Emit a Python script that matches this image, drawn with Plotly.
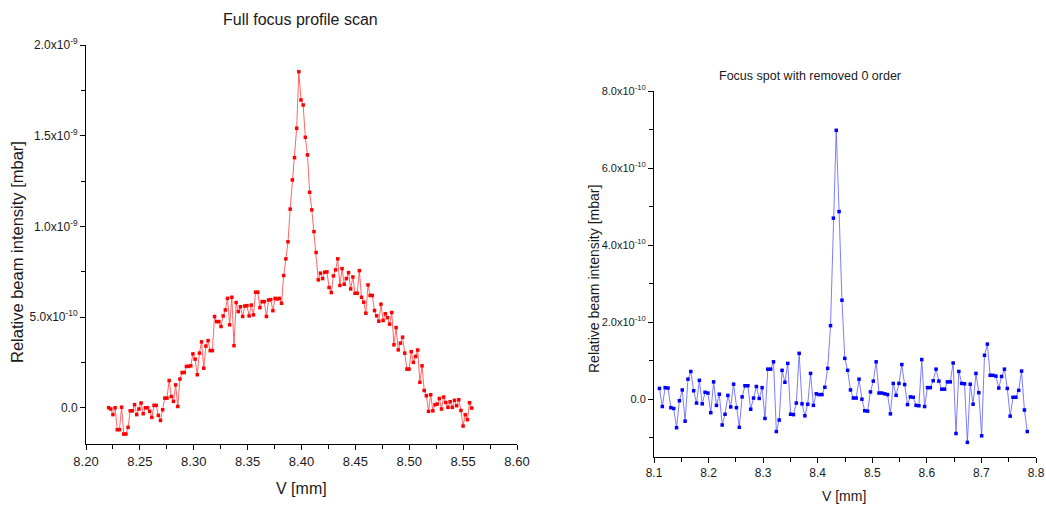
import numpy as np
import plotly.graph_objects as go

# ---------------- data (intensities in units of 1e-10 mbar) ----------------
full_scan_start = 8.221   # first scan position [mm]
full_scan_end = 8.558     # last scan position [mm]
full_intensity_e10 = [
    0.0, -0.07, -0.38, 0.0, -1.21, -1.21, 0.03, -1.45, -1.45, -1.08,
    -0.17, -0.17, 0.17, -0.38, -0.07, 0.26, -0.33, 0.0, 0.0, -0.20,
    -0.53, 0.13, 0.13, -0.42, -0.70, -0.11, 0.53, 0.53, 1.50, 0.62,
    0.35, 1.26, 0.07, 1.58, 1.94, 1.94, 2.28, 2.28, 2.31, 2.97,
    2.68, 1.82, 3.01, 3.63, 2.18, 3.40, 3.70, 3.15, 3.15, 5.03,
    4.75, 4.75, 4.48, 5.06, 5.39, 6.03, 4.57, 6.09, 3.42, 5.80,
    5.30, 5.57, 5.03, 5.61, 5.63, 5.06, 5.66, 5.12, 6.37, 6.37,
    5.52, 5.85, 5.85, 5.03, 5.94, 5.96, 5.35, 6.03, 6.00, 6.03,
    5.76, 7.29, 8.21, 9.15, 10.95, 12.56, 13.79, 15.41, 18.53,
    16.97, 16.69, 14.91, 13.94, 11.88, 10.91, 9.71, 8.56, 7.05, 7.42,
    7.12, 7.47, 7.49, 6.63, 6.35, 7.27, 7.60, 8.21, 6.74, 7.67,
    6.81, 7.12, 7.45, 6.55, 7.21, 6.31, 6.31, 7.56, 6.09, 5.82,
    5.21, 6.77, 6.19, 6.19, 5.36, 5.07, 4.77, 5.71, 4.81, 5.18,
    4.97, 4.61, 5.25, 3.47, 4.42, 3.19, 3.56, 3.89, 3.01, 2.13,
    2.13, 3.09, 2.50, 2.83, 3.18, 1.40, 2.31, 0.95, 0.66, -0.20,
    0.72, -0.17, 0.17, 0.20, 0.51, -0.07, 0.59, 0.29, 0.02, 0.33,
    0.02, 0.41, 0.11, 0.44, -0.15, -1.01, -0.39, -0.66, 0.28, -0.02,
]

spot_scan_start = 8.110
spot_scan_end = 8.784
spot_intensity_e10 = [
    0.28, -0.19, 0.30, 0.29, -0.22, -0.24, -0.74, -0.04, 0.24, -0.57,
    0.52, 0.72, 0.22, -0.10, 0.49, -0.12, 0.18, 0.16, -0.35, 0.45,
    -0.16, 0.13, -0.67, -0.39, 0.10, -0.20, 0.39, -0.22, -0.73, 0.06,
    0.35, 0.35, -0.26, 0.03, 0.33, 0.02, 0.30, -0.50, 0.78, 0.78,
    0.97, -0.84, -0.54, 0.75, 0.44, 0.93, -0.39, -0.40, -0.10, 1.19,
    -0.12, -0.43, -0.13, 0.67, -0.16, 0.14, 0.12, 0.12, 0.31, 0.80,
    1.91, 4.70, 6.98, 4.87, 2.57,
    1.06, 0.75, 0.24, 0.03, 0.03, 0.52, 0.00, -0.30, -0.31, 0.19,
    0.47, 0.97, 0.16, 0.16, 0.14, 0.12, -0.38, 0.41, 0.10, 0.41,
    0.90, 0.38, -0.14, 0.06, 0.05, -0.16, -0.17, 1.03, -0.19, 0.30,
    0.30, 0.48, 0.78, 0.47, 0.26, 0.26, 0.45, 0.45, 0.94, -0.89,
    0.72, 0.41, 0.40, -1.12, 0.39, -0.13, 0.67, 0.17, -0.95, 1.14,
    1.43, 0.62, 0.62, 0.60, 0.29, 0.59, 0.78, 0.28, -0.44, 0.05,
    0.05, 0.23, 0.73, -0.28, -0.84,
]

left_ytick_vals = [0, 5e-10, 1.0e-9, 1.5e-9, 2.0e-9]
left_ytick_text = ["0.0", "5.0x10<sup>-10</sup>", "1.0x10<sup>-9</sup>",
                   "1.5x10<sup>-9</sup>", "2.0x10<sup>-9</sup>"]
right_xtick_vals = [8.1, 8.2, 8.3, 8.4, 8.5, 8.6, 8.7, 8.8]
right_ytick_vals = [0, 2e-10, 4e-10, 6e-10, 8e-10]
right_ytick_text = ["0.0", "2.0x10<sup>-10</sup>", "4.0x10<sup>-10</sup>",
                    "6.0x10<sup>-10</sup>", "8.0x10<sup>-10</sup>"]

# ---------------- build ----------------
x_full = np.linspace(full_scan_start, full_scan_end, len(full_intensity_e10))
y_full = np.array(full_intensity_e10) * 1e-10
x_spot = np.linspace(spot_scan_start, spot_scan_end, len(spot_intensity_e10))
y_spot = np.array(spot_intensity_e10) * 1e-10

W, H = 1046, 509
FONT = "Arial, Liberation Sans, sans-serif"
TXT = "#1a1a1a"

fig = go.Figure()
fig.add_trace(go.Scatter(
    x=x_full, y=y_full, mode="lines+markers",
    line=dict(color="#ff4040", width=0.8),
    marker=dict(symbol="square", size=3.5, color="#ff0000", line=dict(width=0)),
    xaxis="x", yaxis="y", showlegend=False))
fig.add_trace(go.Scatter(
    x=x_spot, y=y_spot, mode="lines+markers",
    line=dict(color="#5c5cff", width=0.8),
    marker=dict(symbol="square", size=3.5, color="#0000ff", line=dict(width=0)),
    xaxis="x2", yaxis="y2", showlegend=False))

def px(v):
    return v / W

def py(v):
    return 1 - v / H

axis_common = dict(showgrid=False, zeroline=False, showline=True, linecolor="black",
                   linewidth=1, ticks="outside", ticklen=5, tickcolor="black",
                   tickwidth=1, automargin=False)

fig.update_layout(
    template="none",
    width=W, height=H, autosize=False,
    margin=dict(l=0, r=0, t=0, b=0, pad=0),
    paper_bgcolor="white", plot_bgcolor="white",
    font=dict(family=FONT, color=TXT),
    xaxis=dict(**axis_common, domain=[px(86), px(517)], range=[8.2, 8.6000001],
               tickmode="linear", tick0=8.2, dtick=0.05, tickformat=".2f",
               tickfont=dict(size=13, color=TXT), anchor="y",
               minor=dict(ticks="outside", ticklen=4, tickcolor="black",
                          tick0=8.2, dtick=0.025, showgrid=False)),
    yaxis=dict(**axis_common, domain=[py(444), py(45)], range=[-2e-10, 2.0e-9],
               tickmode="array", tickvals=left_ytick_vals, ticktext=left_ytick_text,
               tickfont=dict(size=12, color=TXT), anchor="x",
               minor=dict(ticks="outside", ticklen=4, tickcolor="black", showgrid=False,
                          tickvals=[2.5e-10, 7.5e-10, 1.25e-9, 1.75e-9])),
    xaxis2=dict(**axis_common, domain=[px(654), px(1036)], range=[8.1, 8.8000001],
                tickmode="array", tickvals=right_xtick_vals,
                ticktext=[f"{v:.1f}" for v in right_xtick_vals],
                ticklabeloverflow="allow",
                tickfont=dict(size=12, color=TXT), anchor="y2",
                minor=dict(ticks="outside", ticklen=4, tickcolor="black", showgrid=False,
                           tickvals=[8.15, 8.25, 8.35, 8.45, 8.55, 8.65, 8.75])),
    yaxis2=dict(**axis_common, domain=[py(457), py(91)], range=[-1.5e-10, 8e-10],
                tickmode="array", tickvals=right_ytick_vals, ticktext=right_ytick_text,
                tickfont=dict(size=11, color=TXT), anchor="x2",
                minor=dict(ticks="outside", ticklen=4, tickcolor="black", showgrid=False,
                           tickvals=[-1e-10, 1e-10, 3e-10, 5e-10, 7e-10])),
)

annots = [
    dict(text="Full focus profile scan", x=px(300), y=py(20), size=16, angle=0),
    dict(text="Focus spot with removed 0 order", x=px(810), y=py(76), size=12.5, angle=0),
    dict(text="Relative beam intensity [mbar]", x=px(17), y=py(252), size=16.5, angle=-90),
    dict(text="Relative beam intensity [mbar]", x=px(594), y=py(279), size=14, angle=-90),
    dict(text="V [mm]", x=px(301), y=py(488), size=16, angle=0),
    dict(text="V [mm]", x=px(844), y=py(496), size=14, angle=0),
]
for a in annots:
    fig.add_annotation(text=a["text"], x=a["x"], y=a["y"], xref="paper", yref="paper",
                       xanchor="center", yanchor="middle", showarrow=False,
                       textangle=a["angle"],
                       font=dict(family=FONT, size=a["size"], color=TXT))

# remove the browser's default 8px page margin so the figure fills the window
fig.write_html("out.html",
               config={"displayModeBar": False},
               post_script="document.body.style.margin='0';document.body.style.overflow='hidden';")
